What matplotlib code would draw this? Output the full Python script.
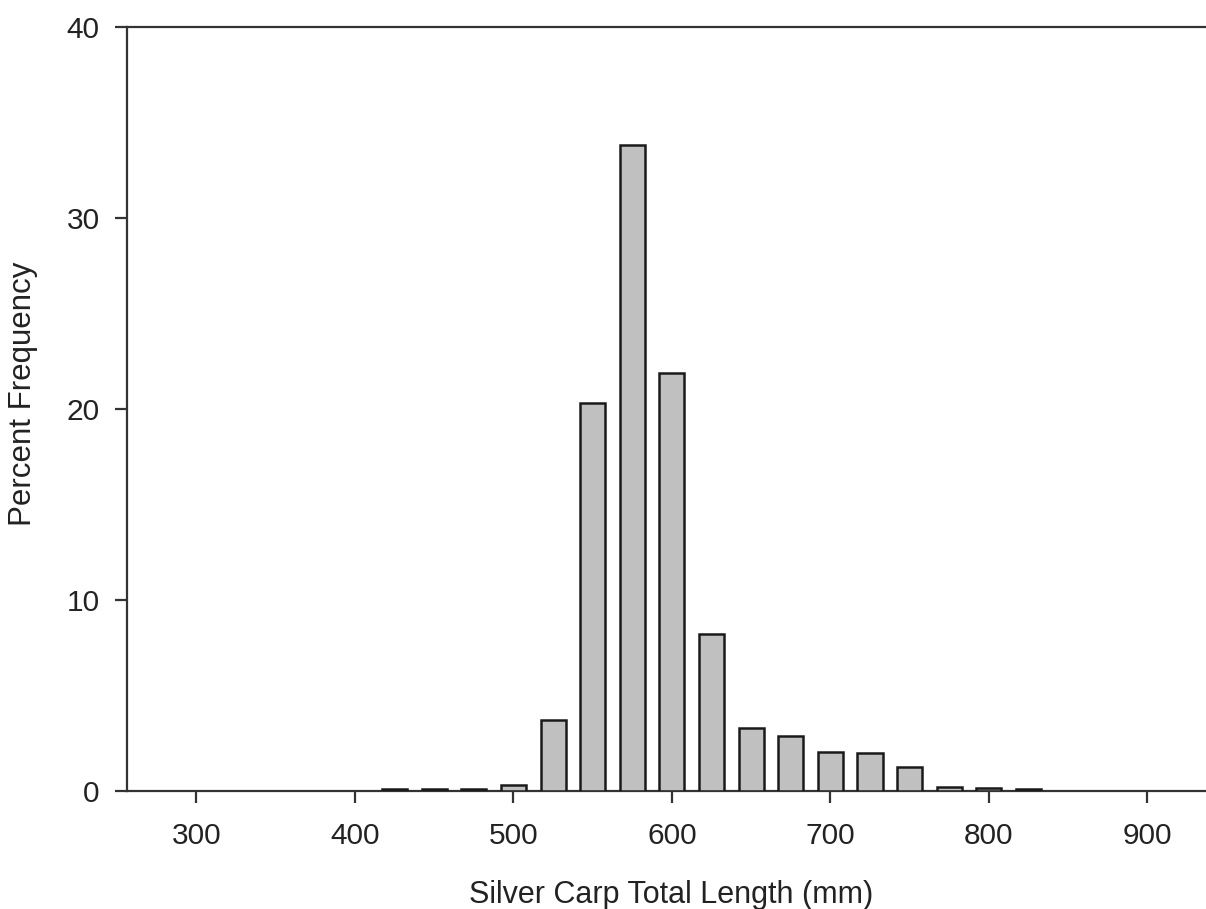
import matplotlib
matplotlib.use("Agg")
import matplotlib.pyplot as plt

# length bins (mm) and percent frequency
lengths = [425, 450, 475, 500, 525, 550, 575, 600, 625, 650, 675, 700, 725, 750, 775, 800, 825]
percent = [0.1, 0.1, 0.1, 0.3, 3.7, 20.3, 33.8, 21.85, 8.2, 3.3, 2.85, 2.05, 1.98, 1.25, 0.2, 0.12, 0.1]

x_ticks = [300, 400, 500, 600, 700, 800, 900]
y_ticks = [0, 10, 20, 30, 40]

plt.rcParams["font.family"] = ["Liberation Sans", "DejaVu Sans"]

W, H = 1206, 909
fig = plt.figure(figsize=(W / 100, H / 100), dpi=100)
ax = fig.add_axes([126.7 / W, 1 - 790.7 / H, 1 - 126.7 / W, (790.7 - 26.7) / H])

ax.bar(lengths, percent, width=15.8, color="#c0c0c0", edgecolor="#1a1a1a", linewidth=1.8, zorder=3)

ax.set_xlim(256, 937)
ax.set_ylim(0, 40)
ax.set_xticks(x_ticks)
ax.set_yticks(y_ticks)

for side in ("left", "bottom", "top"):
    ax.spines[side].set_color("#333333")
    ax.spines[side].set_linewidth(1.6)
ax.spines["right"].set_visible(False)

ax.tick_params(axis="both", direction="out", length=8.5, width=1.6, color="#333333",
               labelsize=21.5, labelcolor="#222222")
ax.tick_params(axis="x", pad=14)
ax.tick_params(axis="y", pad=11)

fig.text(671 / W, 1 - 895 / H, "Silver Carp Total Length (mm)", ha="center", va="center",
         fontsize=22, color="#222222")
fig.text(23 / W, 1 - 394 / H, "Percent Frequency", ha="center", va="center", rotation=90,
         fontsize=22.5, color="#222222")

fig.savefig("out.png", dpi=100, facecolor="white")
